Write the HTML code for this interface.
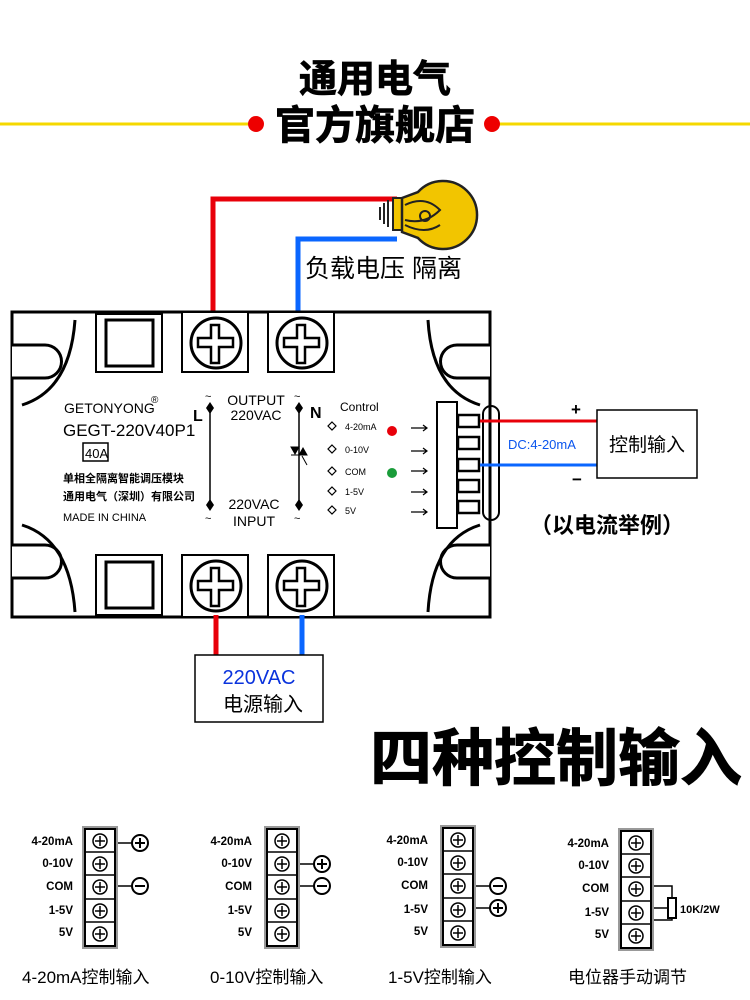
<!DOCTYPE html><html><head><meta charset="utf-8"><style>body{margin:0;background:#fff}svg{display:block}text{font-family:"Liberation Sans","Noto Sans CJK SC",sans-serif}</style></head><body>
<svg width="750" height="1000" viewBox="0 0 750 1000" xmlns="http://www.w3.org/2000/svg">
<defs>
<g id="scr"><circle r="25" fill="#fff" stroke="#000" stroke-width="3"/><path d="M-5,-18 L3,-18 L3,-5 L17,-5 L17,4 L3,4 L3,20 L-5,20 L-5,4 L-18,4 L-18,-5 L-5,-5 Z" fill="#fff" stroke="#000" stroke-width="2.5"/></g>
<g id="ts"><circle r="7" fill="#fff" stroke="#000" stroke-width="1.5"/><path d="M-5,0H5M0,-5V5" stroke="#000" stroke-width="1.5"/></g>
<g id="strip"><rect x="-2" y="-2" width="34" height="121" fill="#fff" stroke="#999" stroke-width="2"/><rect x="0" y="0" width="30" height="117" fill="none" stroke="#000" stroke-width="2"/>
<path d="M0,23H30M0,46H30M0,70H30M0,93H30" stroke="#000" stroke-width="1.5"/>
<use href="#ts" x="15" y="12"/><use href="#ts" x="15" y="35"/><use href="#ts" x="15" y="58"/><use href="#ts" x="15" y="82"/><use href="#ts" x="15" y="105"/></g>
<g id="lbl" font-size="11.5" font-weight="bold" text-anchor="end"><text y="16">4-20mA</text><text y="38">0-10V</text><text y="61">COM</text><text y="85">1-5V</text><text y="107">5V</text></g>
</defs>
<text x="375" y="92" font-size="38" font-weight="bold" text-anchor="middle" stroke="#000" stroke-width="0.8">通用电气</text>
<line x1="0" y1="124" x2="250" y2="124" stroke="#f5d800" stroke-width="3"/>
<line x1="498" y1="124" x2="750" y2="124" stroke="#f5d800" stroke-width="3"/>
<circle cx="256" cy="124" r="8" fill="#e00"/><circle cx="492" cy="124" r="8" fill="#e00"/>
<text x="375" y="139" font-size="40" font-weight="bold" text-anchor="middle" stroke="#000" stroke-width="0.8">官方旗舰店</text>
<path d="M213,320 V199 H397" fill="none" stroke="#e8000a" stroke-width="5"/>
<path d="M298,320 V239 H397" fill="none" stroke="#0a66ff" stroke-width="5"/>
<path d="M380,207V220M384,203V224M388,200V227" stroke="#222" stroke-width="2"/>
<rect x="393" y="198" width="10" height="32" fill="#f2c500" stroke="#222" stroke-width="2"/>
<path d="M402,198 L418,192 A34,34 0 1 1 418,238 L402,232 Z" fill="#f2c500" stroke="#222" stroke-width="2.5"/>
<path d="M405,205 Q425,195 440,210 Q425,225 405,220 M405,225 Q425,235 440,225" fill="none" stroke="#222" stroke-width="2"/>
<circle cx="425" cy="216" r="5" fill="none" stroke="#222" stroke-width="2"/>
<text x="305" y="277" font-size="25">负载电压  隔离</text>
<path d="M12,312 H490 V617 H12 Z" fill="#fff" stroke="#000" stroke-width="3"/>
<path d="M12,345 H45 A15,15 0 0 1 45,378 H12 M12,545 H45 A15,15 0 0 1 45,578 H12" fill="#fff" stroke="#000" stroke-width="3"/>
<path d="M490,345 H457 A15,15 0 0 0 457,378 H490 M490,545 H457 A15,15 0 0 0 457,578 H490" fill="#fff" stroke="#000" stroke-width="3"/>
<path d="M22,405 Q70,390 75,320 M22,525 Q70,540 75,612 M480,405 Q432,390 428,320 M480,525 Q432,540 428,612" fill="none" stroke="#000" stroke-width="3"/>
<rect x="96" y="314" width="66" height="58" fill="#fff" stroke="#000" stroke-width="2"/><rect x="106" y="320" width="47" height="46" fill="none" stroke="#000" stroke-width="3"/>
<rect x="96" y="555" width="66" height="60" fill="#fff" stroke="#000" stroke-width="2"/><rect x="106" y="562" width="47" height="46" fill="none" stroke="#000" stroke-width="3"/>
<rect x="182" y="312" width="66" height="60" fill="#fff" stroke="#000" stroke-width="2"/><rect x="268" y="312" width="66" height="60" fill="#fff" stroke="#000" stroke-width="2"/>
<rect x="182" y="555" width="66" height="62" fill="#fff" stroke="#000" stroke-width="2"/><rect x="268" y="555" width="66" height="62" fill="#fff" stroke="#000" stroke-width="2"/>
<use href="#scr" x="216" y="343"/><use href="#scr" x="302" y="343"/><use href="#scr" x="216" y="586"/><use href="#scr" x="302" y="586"/>
<text x="64" y="413" font-size="14">GETONYONG</text><text x="151" y="403" font-size="10">®</text>
<text x="63" y="436" font-size="17">GEGT-220V40P1</text>
<rect x="83" y="443" width="25" height="18" fill="none" stroke="#000" stroke-width="1.5"/><text x="85" y="458" font-size="13">40A</text>
<text x="63" y="482" font-size="11" font-weight="bold">单相全隔离智能调压模块</text>
<text x="63" y="500" font-size="11" font-weight="bold">通用电气（深圳）有限公司</text>
<text x="63" y="521" font-size="11">MADE IN CHINA</text>
<line x1="210" y1="408" x2="210" y2="505" stroke="#000" stroke-width="1.5"/><line x1="299" y1="408" x2="299" y2="505" stroke="#000" stroke-width="1.5"/>
<path d="M210,402l4,6l-4,6l-4,-6zM210,499l4,6l-4,6l-4,-6zM299,402l4,6l-4,6l-4,-6zM299,499l4,6l-4,6l-4,-6z"/>
<text x="193" y="421" font-size="16" font-weight="bold">L</text><text x="310" y="418" font-size="16" font-weight="bold">N</text>
<text x="205" y="400" font-size="11">~</text><text x="294" y="400" font-size="11">~</text><text x="205" y="522" font-size="11">~</text><text x="294" y="522" font-size="11">~</text>
<text x="256" y="405" font-size="14" text-anchor="middle">OUTPUT</text><text x="256" y="420" font-size="14" text-anchor="middle">220VAC</text>
<text x="254" y="509" font-size="14" text-anchor="middle">220VAC</text><text x="254" y="526" font-size="14" text-anchor="middle">INPUT</text>
<path d="M291,455h16M291,447l4,7l4,-7zM299,455l4,-7l4,7z" stroke="#000" fill="#000"/><line x1="302" y1="456" x2="307" y2="465" stroke="#000"/>
<text x="340" y="411" font-size="12">Control</text>
<g font-size="9"><text x="345" y="430">4-20mA</text><text x="345" y="453">0-10V</text><text x="345" y="475">COM</text><text x="345" y="495">1-5V</text><text x="345" y="514">5V</text></g>
<g fill="none" stroke="#000" stroke-width="1.2"><path d="M332,422l4,4l-4,4l-4,-4zM332,445l4,4l-4,4l-4,-4zM332,467l4,4l-4,4l-4,-4zM332,487l4,4l-4,4l-4,-4zM332,506l4,4l-4,4l-4,-4z"/>
<path d="M411,428h16m-4,-3l4,3l-4,3M411,451h16m-4,-3l4,3l-4,3M411,471h16m-4,-3l4,3l-4,3M411,492h16m-4,-3l4,3l-4,3M411,512h16m-4,-3l4,3l-4,3"/></g>
<circle cx="392" cy="431" r="5" fill="#e8000a"/><circle cx="392" cy="473" r="5" fill="#1a9c3a"/>
<rect x="437" y="402" width="20" height="126" fill="#fff" stroke="#000" stroke-width="2"/>
<g fill="#fff" stroke="#000" stroke-width="2.5"><rect x="458" y="415" width="21" height="12"/><rect x="458" y="437" width="21" height="12"/><rect x="458" y="459" width="21" height="12"/><rect x="458" y="480" width="21" height="12"/><rect x="458" y="501" width="21" height="12"/></g>
<rect x="483" y="406" width="16" height="114" rx="8" fill="none" stroke="#000" stroke-width="2"/>
<line x1="480" y1="421" x2="598" y2="421" stroke="#e8000a" stroke-width="3"/>
<line x1="480" y1="465" x2="598" y2="465" stroke="#0a66ff" stroke-width="3"/>
<text x="571" y="415" font-size="17" font-weight="bold">+</text><text x="572" y="485" font-size="17" font-weight="bold">−</text>
<text x="508" y="449" font-size="13" fill="#0a55ee">DC:4-20mA</text>
<rect x="597" y="410" width="100" height="68" fill="#fff" stroke="#000" stroke-width="1.5"/>
<text x="647" y="451" font-size="19" text-anchor="middle">控制输入</text>
<text x="530" y="533" font-size="22" font-weight="bold">（以电流举例）</text>
<line x1="216" y1="615" x2="216" y2="656" stroke="#e8000a" stroke-width="5"/>
<line x1="302" y1="615" x2="302" y2="656" stroke="#0a66ff" stroke-width="5"/>
<rect x="195" y="655" width="128" height="67" fill="#fff" stroke="#000" stroke-width="1.5"/>
<text x="259" y="684" font-size="20" fill="#0a33dd" text-anchor="middle">220VAC</text>
<text x="263" y="711" font-size="20" text-anchor="middle">电源输入</text>
<text x="556" y="780" font-size="62" font-weight="bold" text-anchor="middle" stroke="#000" stroke-width="1">四种控制输入</text>
<g fill="none" stroke="#000" stroke-width="1.5"><path d="M115,843H132M115,886H132M297,864H314M297,886H314M470,886H490M470,908H490M648,886H672V920H648M648,908H668"/></g>
<g transform="translate(85,829)"><use href="#strip"/><use href="#lbl" x="-12"/></g>
<g transform="translate(267,829)"><use href="#strip"/><use href="#lbl" x="-15"/></g>
<g transform="translate(443,828)"><use href="#strip"/><use href="#lbl" x="-15"/></g>
<g transform="translate(621,831)"><use href="#strip"/><use href="#lbl" x="-12"/></g>
<g fill="#fff" stroke="#000" stroke-width="2"><circle cx="140" cy="843" r="8"/><circle cx="140" cy="886" r="8"/><circle cx="322" cy="864" r="8"/><circle cx="322" cy="886" r="8"/><circle cx="498" cy="886" r="8"/><circle cx="498" cy="908" r="8"/><rect x="668" y="898" width="8" height="20"/></g>
<path d="M135,843h10M140,838v10M135,886h10M317,864h10M322,859v10M317,886h10M493,886h10M493,908h10M498,903v10" stroke="#000" stroke-width="2"/>
<text x="680" y="913" font-size="11" font-weight="bold">10K/2W</text>
<g font-size="17"><text x="22" y="983">4-20mA控制输入</text><text x="210" y="983">0-10V控制输入</text><text x="388" y="983">1-5V控制输入</text><text x="568" y="983">电位器手动调节</text></g>
</svg></body></html>
